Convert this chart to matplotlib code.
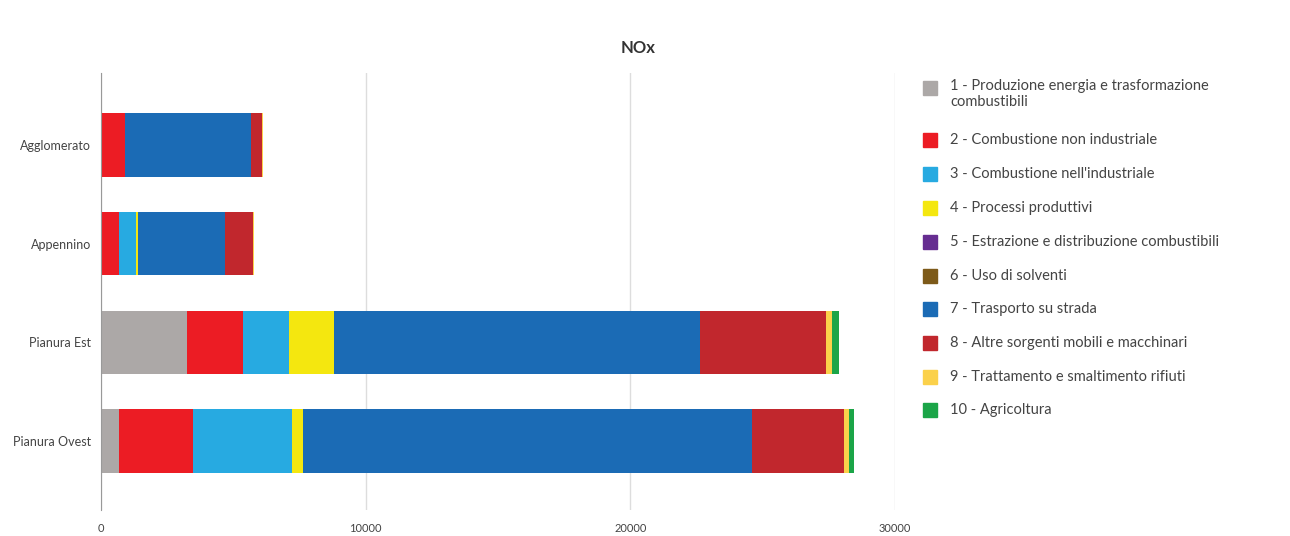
import matplotlib.pyplot as plt
from matplotlib.patches import Rectangle

plt.rcParams['font.family'] = ['Lato', 'DejaVu Sans']

zones = ["Agglomerato", "Appennino", "Pianura Est", "Pianura Ovest"]

sectors = [
    "1 - Produzione energia e trasformazione\ncombustibili",
    "2 - Combustione non industriale",
    "3 - Combustione nell'industriale",
    "4 - Processi produttivi",
    "5 - Estrazione e distribuzione combustibili",
    "6 - Uso di solventi",
    "7 - Trasporto su strada",
    "8 - Altre sorgenti mobili e macchinari",
    "9 - Trattamento e smaltimento rifiuti",
    "10 - Agricoltura",
]

# NOx emissions per sector, one list per sector (order of zones above)
s1 = [0, 0, 3250, 680]
s2 = [907, 680, 2120, 2800]
s3 = [0, 643, 1730, 3740]
s4 = [0, 90, 1700, 420]
s5 = [0, 0, 0, 0]
s6 = [0, 0, 0, 0]
s7 = [4760, 3290, 13840, 16960]
s8 = [416, 1058, 4760, 3480]
s9 = [40, 15, 230, 190]
s10 = [0, 0, 270, 190]
series = [s1, s2, s3, s4, s5, s6, s7, s8, s9, s10]

colors = ["#aca8a7", "#ec1c24", "#27aae1", "#f4e70f", "#662d91",
          "#7d5a19", "#1b6bb5", "#c1272d", "#fbd14b", "#1ba548"]

fig = plt.figure(figsize=(12.9, 5.36), dpi=100)
ax = fig.add_axes([101 / 1290, 1 - 510 / 536, 794 / 1290, 437 / 536])

left = [0] * len(zones)
ypos = list(range(len(zones)))
for vals, col in zip(series, colors):
    ax.barh(ypos, vals, left=left, height=0.64, color=col, linewidth=0)
    left = [a + b for a, b in zip(left, vals)]

ax.set_xlim(0, 30000)
ax.set_ylim(3.70, -0.73)
ax.set_xticks([0, 10000, 20000, 30000])
ax.set_yticks(ypos)
ax.set_yticklabels(zones)
ax.tick_params(axis='both', length=0, colors="#444444")
ax.tick_params(axis='x', pad=9, labelsize=8)
ax.tick_params(axis='y', pad=7, labelsize=9)
ax.xaxis.grid(True, color="#dddddd", linewidth=1)
ax.set_axisbelow(True)
for side in ["top", "right", "bottom"]:
    ax.spines[side].set_visible(False)
ax.spines["left"].set_color("#999999")

fig.text(638 / 1290, 1 - 48 / 536, "NOx", ha='center', va='center',
         fontsize=12, fontweight='bold', color="#333333")

# legend drawn by hand so the square lines up with the first text line
leg_y = [88, 140, 174, 208, 242, 276, 309, 343, 377, 410]
for lab, col, yy in zip(sectors, colors, leg_y):
    fig.patches.append(Rectangle((923 / 1290, 1 - (yy + 7) / 536), 14 / 1290, 14 / 536,
                                 transform=fig.transFigure, color=col))
    if "\n" in lab:
        fig.text(950 / 1290, 1 - (yy - 9) / 536, lab, ha='left', va='top',
                 fontsize=10.5, color="#444444", linespacing=1.2)
    else:
        fig.text(950 / 1290, 1 - yy / 536, lab, ha='left', va='center',
                 fontsize=10.5, color="#444444")

fig.savefig("out.png", dpi=100)
